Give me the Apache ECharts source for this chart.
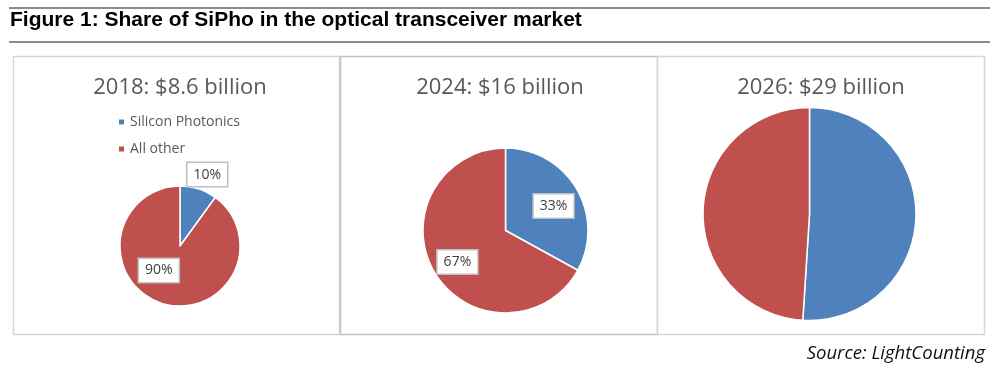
<!DOCTYPE html>
<html><head><meta charset="utf-8">
<script src="https://cdn.jsdelivr.net/npm/echarts@6/dist/echarts.min.js"></script>
<style>html,body{margin:0;padding:0;background:#fff}#c{width:1000px;height:371px}</style>
</head><body><div id="c"></div>
<script>
const figureTitle = 'Figure 1: Share of SiPho in the optical transceiver market';
const sourceText = 'Source: LightCounting';
const categories = ['Silicon Photonics', 'All other'];
const panelTitles = ['2018: $8.6 billion', '2024: $16 billion', '2026: $29 billion'];
const share2018 = [10, 90];
const share2024 = [33, 67];
const share2026 = [51, 49];
const colors = ['#4f81bd', '#c0504d'];

const chart = echarts.init(document.getElementById('c'), null, {renderer: 'canvas'});
const FONT = '"Open Sans", sans-serif';

const labelBox = {
  show: true, position: 'inside', formatter: '{c}%',
  fontFamily: FONT, fontSize: 14, color: '#404040',
  backgroundColor: '#fff', borderColor: '#bfbfbf', borderWidth: 1.5,
  padding: [5, 6, 4, 6]
};
function buildData(vals, offsets) {
  return vals.map((v, i) => ({
    name: categories[i], value: v,
    itemStyle: {color: colors[i]},
    label: offsets ? Object.assign({}, labelBox, {offset: offsets[i]}) : {show: false}
  }));
}
const pieBase = {
  type: 'pie', animation: false, startAngle: 90, clockwise: true,
  itemStyle: {borderColor: '#fff', borderWidth: 1.5},
  labelLine: {show: false}, emphasis: {disabled: true}
};

const panels = [
  {x: 13.5, w: 326, stroke: '#d6d6d6'},
  {x: 340.5, w: 317, stroke: '#c4c4c4'},
  {x: 657.5, w: 327, stroke: '#d6d6d6'}
];
const titleX = [180, 500, 821];

const graphics = [
  {type: 'line', shape: {x1: 9, y1: 8, x2: 990, y2: 8}, style: {stroke: '#8c8c8c', lineWidth: 2}},
  {type: 'line', shape: {x1: 9, y1: 42, x2: 990, y2: 42}, style: {stroke: '#8c8c8c', lineWidth: 2}},
  {type: 'text', x: 10, y: 20, style: {text: figureTitle, font: 'bold 21px "Liberation Sans", Arial, sans-serif', fill: '#000', verticalAlign: 'middle'}},
  {type: 'text', x: 985, y: 354, style: {text: sourceText, font: 'italic 18.5px "Open Sans", sans-serif', fill: '#111', align: 'right', verticalAlign: 'middle'}}
];
panels.forEach((p, i) => {
  graphics.push({type: 'rect', z: -1, shape: {x: p.x, y: 56.5, width: p.w, height: 278}, style: {fill: '#fff', stroke: p.stroke, lineWidth: 1.5}});
  graphics.push({type: 'text', x: titleX[i], y: 88, style: {text: panelTitles[i], font: '22px "Open Sans", sans-serif', fill: '#595959', align: 'center', verticalAlign: 'middle'}});
});

chart.setOption({
  animation: false,
  color: colors,
  graphic: graphics,
  legend: {
    data: categories, orient: 'vertical', left: 117, top: 114, padding: 0,
    itemGap: 11, itemWidth: 7, itemHeight: 7, icon: 'rect', seriesIndex: 0,
    textStyle: {fontFamily: FONT, fontSize: 14, color: '#595959', lineHeight: 16}
  },
  series: [
    Object.assign({}, pieBase, {name: panelTitles[0], center: [180, 246], radius: 60,
      data: buildData(share2018, [[17, -40], [-11, -7]])}),
    Object.assign({}, pieBase, {name: panelTitles[1], center: [505.5, 230.5], radius: 82.5,
      data: buildData(share2024, [[10, -2], [-10, 9]])}),
    Object.assign({}, pieBase, {name: panelTitles[2], center: [809.5, 214], radius: 106.5,
      data: buildData(share2026, null)})
  ]
});
</script></body></html>
